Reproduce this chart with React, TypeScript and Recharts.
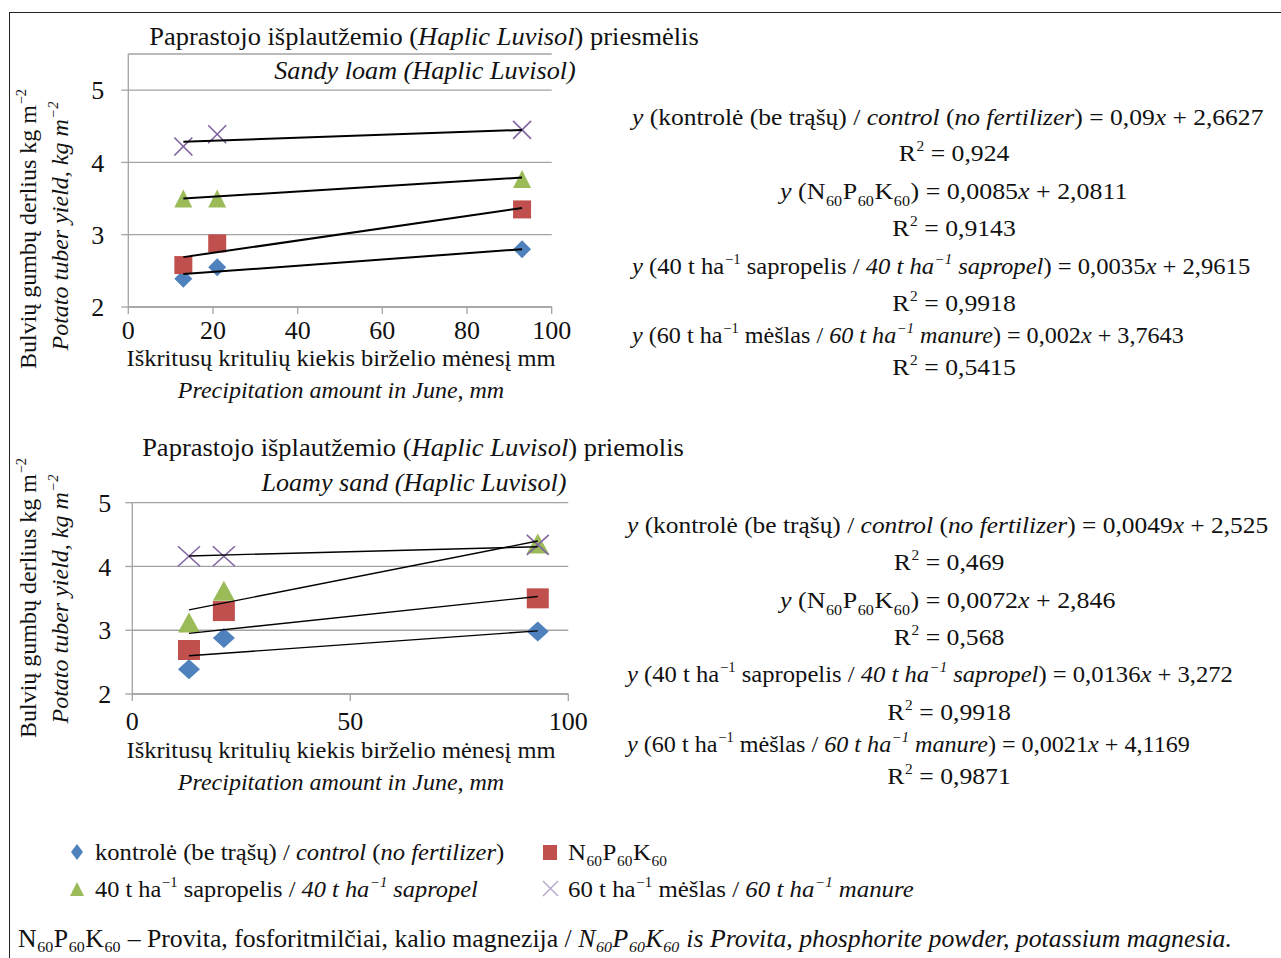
import { ScatterChart, Scatter, XAxis, YAxis, CartesianGrid } from 'recharts';
import type { ReactNode } from 'react';

// x values: June precipitation, mm
const precip = [13, 21, 93];
const trendX = [13, 93];

// sandy loam (priesmėlis), kg m-2
const sandyControl = [2.39, 2.55, 2.8];
const sandyNPK = [2.58, 2.88, 3.35];
const sandySapropel = [3.5, 3.5, 3.77];
const sandyManure = [4.22, 4.39, 4.45];
const sandyTrendControl = [2.455, 2.8];
const sandyTrendNPK = [2.69, 3.37];
const sandyTrendSapropel = [3.5, 3.79];
const sandyTrendManure = [4.285, 4.45];

// loamy sand (priemolis), kg m-2
const loamyControl = [2.39, 2.88, 2.98];
const loamyNPK = [2.69, 3.3, 3.5];
const loamySapropel = [3.12, 3.62, 4.36];
const loamyManure = [4.16, 4.16, 4.34];
const loamyTrendControl = [2.6, 2.99];
const loamyTrendNPK = [2.95, 3.53];
const loamyTrendSapropel = [3.32, 4.4];
const loamyTrendManure = [4.165, 4.31];

const sandyXTicks = [0, 20, 40, 60, 80, 100];
const loamyXTicks = [0, 50, 100];
const yTicks = [2, 3, 4, 5];

const BLUE = '#4F81BD';
const RED = '#C0504D';
const GREEN = '#9BBB59';
const PURPLE = '#8064A2';
const GRID = '#a3a3a3';
const FONT = '"Liberation Serif", "DejaVu Serif", serif';

const pts = (xs: number[], ys: number[]) => xs.map((x, i) => ({ x, y: ys[i] }));

type Kind = 'diamond' | 'square' | 'triangle' | 'x';

function marker(kind: Kind, w: number, h: number, color: string) {
  return (props: any) => {
    const { cx, cy } = props;
    const a = w / 2;
    const b = h / 2;
    if (kind === 'diamond')
      return <polygon points={`${cx},${cy - b} ${cx + a},${cy} ${cx},${cy + b} ${cx - a},${cy}`} fill={color} />;
    if (kind === 'square') return <rect x={cx - a} y={cy - b} width={w} height={h} fill={color} />;
    if (kind === 'triangle')
      return <polygon points={`${cx},${cy - b} ${cx + a},${cy + b} ${cx - a},${cy + b}`} fill={color} />;
    return (
      <g stroke={color} strokeWidth={1.6}>
        <line x1={cx - a} y1={cy - b} x2={cx + a} y2={cy + b} />
        <line x1={cx - a} y1={cy + b} x2={cx + a} y2={cy - b} />
      </g>
    );
  };
}

const noDot = () => <g />;

const Sup = ({ children }: { children: ReactNode }) => (
  <span style={{ fontSize: '0.6em', position: 'relative', top: '-0.7em', marginLeft: '0.05em' }}>{children}</span>
);
const Sub = ({ children, low = 0.45 }: { children: ReactNode; low?: number }) => (
  <span style={{ fontSize: '0.62em', position: 'relative', top: `${low}em`, margin: '0 0.04em' }}>{children}</span>
);
const I = ({ children }: { children: ReactNode }) => <i>{children}</i>;

function T({ x, y, size = 24, k = 1, anchor = 'middle', rotate, italic, children }: {
  x: number; y: number; size?: number; k?: number; anchor?: 'start' | 'middle' | 'end'; rotate?: number; italic?: boolean; children: ReactNode;
}) {
  const tx = anchor === 'middle' ? '-50%' : anchor === 'end' ? '-100%' : '0%';
  return (
    <div
      style={{
        position: 'absolute',
        left: x,
        top: y,
        transformOrigin: anchor === 'start' ? 'left center' : 'center center',
        transform: `translate(${tx}, -50%)${rotate ? ` rotate(${rotate}deg)` : ''} scaleX(${k})`,
        fontSize: size,
        lineHeight: 1,
        whiteSpace: 'nowrap',
        fontStyle: italic ? 'italic' : 'normal',
        color: '#111',
      }}
    >
      {children}
    </div>
  );
}

const NPK = ({ low }: { low?: number }) => (
  <>
    N<Sub low={low}>60</Sub>P<Sub low={low}>60</Sub>K<Sub low={low}>60</Sub>
  </>
);

interface ChartProps {
  top: number;
  width: number;
  height: number;
  margin: { top: number; right: number; left: number; bottom: number };
  yWidth: number;
  xHeight: number;
  yDomain: [number, number];
  xTicks: number[];
  xTickMargin: number;
  yTickMargin: number;
  series: { data: number[]; kind: Kind; color: string }[];
  trends: number[][];
  mw: number;
  mh: number;
  trendWidth: number;
}

function SoilChart(p: ChartProps) {
  const tick = { fill: '#111', fontSize: 26, fontFamily: FONT };
  return (
    <div style={{ position: 'absolute', left: 0, top: p.top }}>
      <ScatterChart width={p.width} height={p.height} margin={p.margin}>
        <CartesianGrid vertical={false} stroke={GRID} strokeWidth={1.3} />
        <XAxis
          type="number"
          dataKey="x"
          domain={[0, 100]}
          ticks={p.xTicks}
          interval={0}
          height={p.xHeight}
          stroke={GRID}
          strokeWidth={1.3}
          tickSize={7}
          tickMargin={p.xTickMargin}
          tick={tick}
          allowDataOverflow
        />
        <YAxis
          type="number"
          dataKey="y"
          domain={p.yDomain}
          ticks={yTicks}
          interval={0}
          width={p.yWidth}
          stroke={GRID}
          strokeWidth={1.3}
          tickSize={7}
          tickMargin={p.yTickMargin}
          tick={tick}
          allowDataOverflow
        />
        {p.series.map((s, i) => (
          <Scatter
            key={'s' + i}
            data={pts(precip, s.data)}
            shape={marker(s.kind, p.mw, p.mh, s.color)}
            isAnimationActive={false}
          />
        ))}
        {p.trends.map((t, i) => (
          <Scatter
            key={'t' + i}
            data={pts(trendX, t)}
            line={{ stroke: '#000', strokeWidth: p.trendWidth }}
            shape={noDot}
            isAnimationActive={false}
          />
        ))}
      </ScatterChart>
    </div>
  );
}

export default function App() {
  return (
    <div
      style={{
        position: 'absolute',
        left: 0,
        top: 0,
        width: 1281,
        height: 958,
        background: '#fff',
        fontFamily: FONT,
        overflow: 'hidden',
      }}
    >
      {/* frame */}
      <div style={{ position: 'absolute', left: 9, top: 12, width: 1272, height: 1, background: '#222' }} />
      <div style={{ position: 'absolute', left: 9, top: 12, width: 1, height: 946, background: '#222' }} />

      <SoilChart
        top={0}
        width={600}
        height={400}
        margin={{ top: 54, right: 48.3, left: 0, bottom: 0 }}
        yWidth={128.3}
        xHeight={93}
        yDomain={[2, 5.5]}
        xTicks={sandyXTicks}
        xTickMargin={7}
        yTickMargin={17}
        series={[
          { data: sandyControl, kind: 'diamond', color: BLUE },
          { data: sandyNPK, kind: 'square', color: RED },
          { data: sandySapropel, kind: 'triangle', color: GREEN },
          { data: sandyManure, kind: 'x', color: PURPLE },
        ]}
        trends={[sandyTrendControl, sandyTrendNPK, sandyTrendSapropel, sandyTrendManure]}
        mw={18}
        mh={18}
        trendWidth={2}
      />

      <SoilChart
        top={400}
        width={610}
        height={400}
        margin={{ top: 102.7, right: 41.7, left: 0, bottom: 0 }}
        yWidth={132.3}
        xHeight={106}
        yDomain={[2, 5]}
        xTicks={loamyXTicks}
        xTickMargin={11}
        yTickMargin={14}
        series={[
          { data: loamyControl, kind: 'diamond', color: BLUE },
          { data: loamyNPK, kind: 'square', color: RED },
          { data: loamySapropel, kind: 'triangle', color: GREEN },
          { data: loamyManure, kind: 'x', color: PURPLE },
        ]}
        trends={[loamyTrendControl, loamyTrendNPK, loamyTrendSapropel, loamyTrendManure]}
        mw={22}
        mh={20}
        trendWidth={1.4}
      />

      {/* chart 1 texts */}
      <T x={424} y={36} size={25} k={1.058}>
        Paprastojo išplautžemio (<I>Haplic Luvisol</I>) priesmėlis
      </T>
      <T x={425} y={70} size={25} k={1.046} italic>
        Sandy loam (Haplic Luvisol)
      </T>
      <T x={28} y={229} size={24} rotate={-90}>
        Bulvių gumbų derlius kg m<Sup>−2</Sup>
      </T>
      <T x={60} y={226} size={24} rotate={-90} italic>
        Potato tuber yield, kg m<Sup>−2</Sup>
      </T>
      <T x={341} y={358} size={24} k={1.02}>
        Iškritusų kritulių kiekis birželio mėnesį mm
      </T>
      <T x={341} y={390} size={24} italic>
        Precipitation amount in June, mm
      </T>

      {/* chart 2 texts */}
      <T x={413} y={447} size={25} k={1.06}>
        Paprastojo išplautžemio (<I>Haplic Luvisol</I>) priemolis
      </T>
      <T x={414} y={482} size={25} k={1.043} italic>
        Loamy sand (Haplic Luvisol)
      </T>
      <T x={28} y={598} size={24} rotate={-90}>
        Bulvių gumbų derlius kg m<Sup>−2</Sup>
      </T>
      <T x={60} y={599} size={24} rotate={-90} italic>
        Potato tuber yield, kg m<Sup>−2</Sup>
      </T>
      <T x={341} y={750} size={24} k={1.02}>
        Iškritusų kritulių kiekis birželio mėnesį mm
      </T>
      <T x={341} y={782} size={24} italic>
        Precipitation amount in June, mm
      </T>

      {/* equations, chart 1 */}
      <T x={632} y={117} anchor="start" k={1.064}>
        <I>y</I> (kontrolė (be trąšų) / <I>control</I> (<I>no fertilizer</I>) = 0,09<I>x</I> + 2,6627
      </T>
      <T x={954} y={153} k={1.07}>
        R<Sup>2</Sup> = 0,924
      </T>
      <T x={780} y={191} anchor="start" k={1.08}>
        <I>y</I> (<NPK />) = 0,0085<I>x</I> + 2,0811
      </T>
      <T x={954} y={228} k={1.07}>
        R<Sup>2</Sup> = 0,9143
      </T>
      <T x={632} y={266} anchor="start" k={1.025}>
        <I>y</I> (40 t ha<Sup>−1</Sup> sapropelis / <I>40 t ha<Sup>−1</Sup> sapropel</I>) = 0,0035<I>x</I> + 2,9615
      </T>
      <T x={954} y={303} k={1.07}>
        R<Sup>2</Sup> = 0,9918
      </T>
      <T x={632} y={335} anchor="start" k={1.006}>
        <I>y</I> (60 t ha<Sup>−1</Sup> mėšlas / <I>60 t ha<Sup>−1</Sup> manure</I>) = 0,002<I>x</I> + 3,7643
      </T>
      <T x={954} y={367} k={1.07}>
        R<Sup>2</Sup> = 0,5415
      </T>

      {/* equations, chart 2 */}
      <T x={627} y={525} anchor="start" k={1.059}>
        <I>y</I> (kontrolė (be trąšų) / <I>control</I> (<I>no fertilizer</I>) = 0,0049<I>x</I> + 2,525
      </T>
      <T x={949} y={562} k={1.07}>
        R<Sup>2</Sup> = 0,469
      </T>
      <T x={780} y={600} anchor="start" k={1.08}>
        <I>y</I> (<NPK />) = 0,0072<I>x</I> + 2,846
      </T>
      <T x={949} y={637} k={1.07}>
        R<Sup>2</Sup> = 0,568
      </T>
      <T x={627} y={674} anchor="start" k={1.025}>
        <I>y</I> (40 t ha<Sup>−1</Sup> sapropelis / <I>40 t ha<Sup>−1</Sup> sapropel</I>) = 0,0136<I>x</I> + 3,272
      </T>
      <T x={949} y={712} k={1.07}>
        R<Sup>2</Sup> = 0,9918
      </T>
      <T x={627} y={744} anchor="start" k={1.006}>
        <I>y</I> (60 t ha<Sup>−1</Sup> mėšlas / <I>60 t ha<Sup>−1</Sup> manure</I>) = 0,0021<I>x</I> + 4,1169
      </T>
      <T x={949} y={776} k={1.07}>
        R<Sup>2</Sup> = 0,9871
      </T>

      {/* legend */}
      <svg style={{ position: 'absolute', left: 0, top: 830 }} width={600} height={80}>
        <polygon points="77,14 83,22 77,30 71,22" fill={BLUE} />
        <rect x={543} y={15} width={14} height={15} fill={RED} />
        <polygon points="77,52 84,66 70,66" fill={GREEN} />
        <g stroke="#b3a2c7" strokeWidth={1.3}>
          <line x1={543} y1={51} x2={558} y2={66} />
          <line x1={543} y1={66} x2={558} y2={51} />
        </g>
      </svg>
      <T x={95} y={852} size={23} anchor="start" k={1.07}>
        kontrolė (be trąšų) / <I>control</I> (<I>no fertilizer</I>)
      </T>
      <T x={568} y={852} size={23} anchor="start" k={1.08}>
        <NPK />
      </T>
      <T x={95} y={889} size={23} anchor="start" k={1.06}>
        40 t ha<Sup>−1</Sup> sapropelis / <I>40 t ha<Sup>−1</Sup> sapropel</I>
      </T>
      <T x={568} y={889} size={23} anchor="start" k={1.08}>
        60 t ha<Sup>−1</Sup> mėšlas / <I>60 t ha<Sup>−1</Sup> manure</I>
      </T>

      {/* footnote */}
      <T x={18} y={938} size={25} anchor="start" k={1.03}>
        <NPK low={0.3} /> – Provita, fosforitmilčiai, kalio magnezija /{' '}
        <i>
          N<Sub low={0.3}>60</Sub>P<Sub low={0.3}>60</Sub>K<Sub low={0.3}>60</Sub> is Provita, phosphorite powder, potassium magnesia.
        </i>
      </T>
    </div>
  );
}
